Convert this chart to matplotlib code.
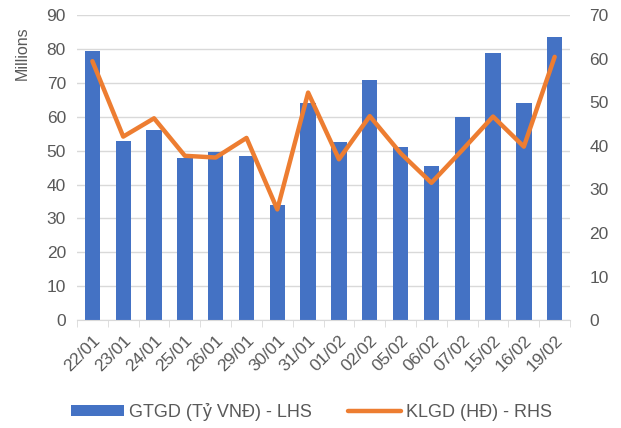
import matplotlib.pyplot as plt
import numpy as np

plt.rcParams['font.family'] = ['Liberation Sans', 'DejaVu Sans']

dates = ["22/01", "23/01", "24/01", "25/01", "26/01", "29/01", "30/01", "31/01",
         "01/02", "02/02", "05/02", "06/02", "07/02", "15/02", "16/02", "19/02"]
gtgd = [79.4, 52.7, 56.1, 47.9, 49.5, 48.3, 34.1, 63.9,
        52.5, 70.7, 51.1, 45.6, 59.8, 78.8, 64.0, 83.6]
klgd = [59.4, 42.1, 46.3, 37.7, 37.3, 41.8, 25.4, 52.2,
        36.9, 46.8, 38.3, 31.5, 39.0, 46.7, 39.8, 60.4]

grey = "#595959"
fs = 12.5
fig = plt.figure(figsize=(6.21, 4.28), dpi=100)
ax = fig.add_axes([0.124, 0.252, 0.794, 0.713])
x = np.arange(len(dates))

ax.bar(x, gtgd, width=0.5, color="#4472C4", zorder=2, label="GTGD (Tỷ VNĐ) - LHS")
ax.set_xlim(-0.5, len(dates) - 0.5)
ax.set_ylim(0, 90)
ax.set_yticks(range(0, 91, 10))
ax.grid(axis="y", color="#d9d9d9", lw=1, zorder=0)
ax.set_xticks(x)
ax.set_xticklabels(dates, rotation=45, ha="right", rotation_mode="anchor")
ax.set_xticks(np.arange(-0.5, len(dates), 1), minor=True)
ax.tick_params(axis="x", which="major", length=0, pad=9, labelsize=fs, labelcolor=grey)
ax.tick_params(axis="x", which="minor", length=5, color="#d9d9d9")
ax.tick_params(axis="y", length=0, labelsize=fs, labelcolor=grey, pad=8)
for s in ["top", "right", "left"]:
    ax.spines[s].set_visible(False)
ax.spines["bottom"].set_color("#d9d9d9")
ax.text(-0.112, 0.875, "Millions", transform=ax.transAxes, rotation=90,
        ha="center", va="center", fontsize=fs - 1, color=grey)

ax2 = ax.twinx()
ax2.plot(x, klgd, color="#ED7D31", lw=3.2, solid_capstyle="round", zorder=3,
         label="KLGD (HĐ) - RHS")
ax2.set_ylim(0, 70)
ax2.set_yticks(range(0, 71, 10))
ax2.tick_params(axis="y", length=0, labelsize=fs, labelcolor=grey, pad=14)
for s in ax2.spines.values():
    s.set_visible(False)

h1, l1 = ax.get_legend_handles_labels()
h2, l2 = ax2.get_legend_handles_labels()
fig.legend(h1 + h2, l1 + l2, loc="center", bbox_to_anchor=(0.502, 1 - 412 / 428), ncol=2,
           frameon=False, fontsize=fs + 0.5, labelcolor=grey, handlelength=2.9,
           handleheight=0.6, columnspacing=2.0, handletextpad=0.3)

fig.savefig("out.png", dpi=100)
